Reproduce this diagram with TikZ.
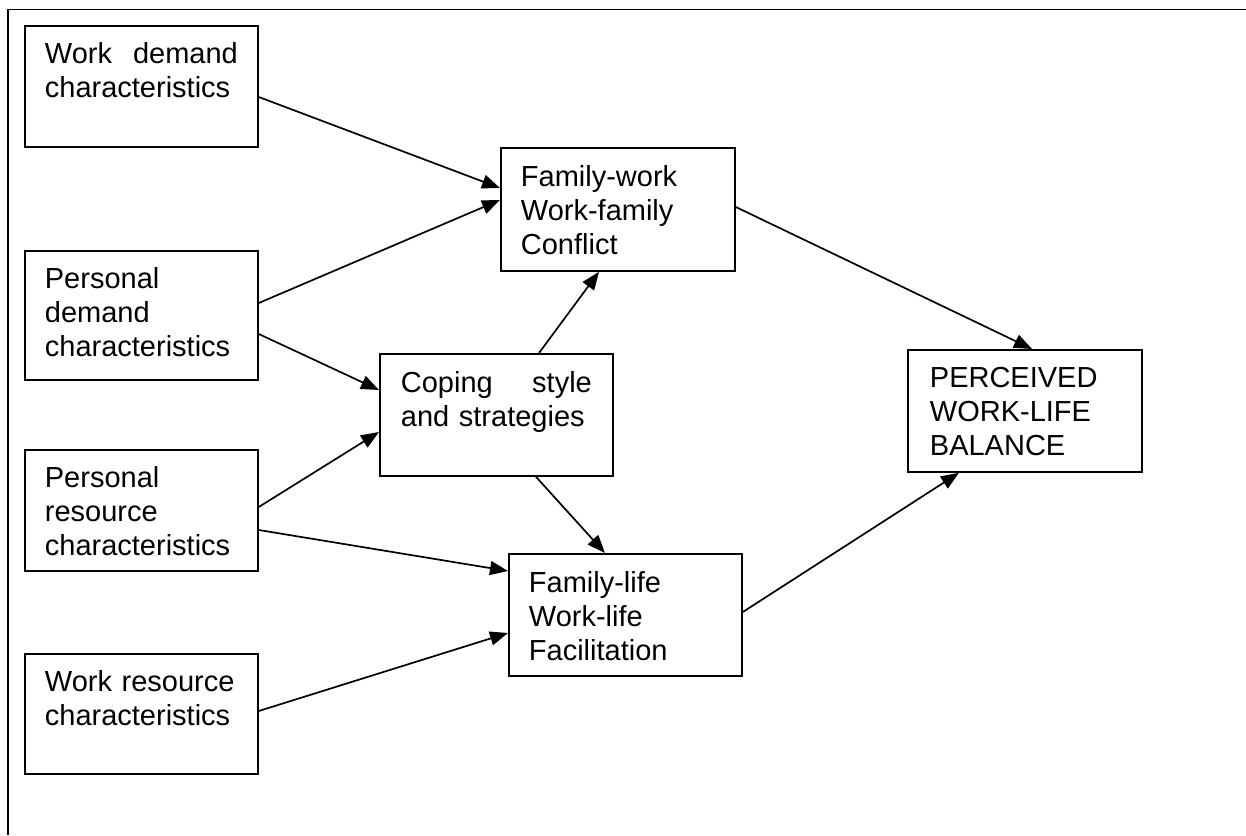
\documentclass[tikz,border=0pt]{standalone}
\usepackage{fontspec}
\setmainfont{Liberation Sans}
\usetikzlibrary{arrows.meta}
\tikzset{
  box/.style={draw, line width=1.8pt, anchor=north west, align=left,
    text width=193pt, inner xsep=20pt, inner ysep=17pt,
    text height=21pt, text depth=66pt,
    font=\fontsize{29}{34}\selectfont},
  arr/.style={->, line width=1.7pt}
}
\begin{document}
\begin{tikzpicture}[x=1pt, y=-1pt, >={Triangle[length=18pt,width=14pt]}]
	\useasboundingbox (0,0) rectangle (1246,835);
	\draw[line width=1.6pt] (1246,9.5) -- (8,9.5) -- (8,835);
	\node[box] (wd) at (24,25) {Work\hfill demand\\characteristics};
	\node[box, text depth=74pt] (pd) at (24,250) {Personal\\demand\\characteristics};
	\node[box] (pr) at (24,449) {Personal\\resource\\characteristics};
	\node[box, text depth=65pt] (wr) at (24,653) {Work resource\\characteristics};
	\node[box, text width=194pt, inner ysep=18pt, text depth=66pt] (fw) at (500,147) {Family-work\\Work-family\\Conflict};
	\node[box, inner xsep=21pt, inner ysep=18pt, text depth=65pt, text width=191pt] (cs) at (379,353) {Coping\hfill style\\and strategies};
	\node[box, inner ysep=18pt, text depth=65pt] (fa) at (508,553) {Family-life\\Work-life\\Facilitation};
	\node[box, inner xsep=22pt, text width=190pt, text depth=67pt] (pb) at (907,349) {PERCEIVED\\WORK-LIFE\\BALANCE};
	\draw[arr] ([yshift=-72pt]wd.north east) -- ([yshift=-41pt]fw.north west);
	\draw[arr] ([yshift=-53pt]pd.north east) -- ([yshift=-53pt]fw.north west);
	\draw[arr] ([yshift=-84pt]pd.north east) -- ([yshift=-37pt]cs.north west);
	\draw[arr] ([yshift=-58pt]pr.north east) -- ([yshift=-79pt]cs.north west);
	\draw[arr] ([yshift=-81pt]pr.north east) -- ([yshift=-18pt]fa.north west);
	\draw[arr] ([yshift=-58pt]wr.north east) -- ([yshift=-80pt]fa.north west);
	\draw[arr] ([xshift=160pt]cs.north west) -- ([xshift=99pt]fw.south west);
	\draw[arr] ([xshift=157pt]cs.south west) -- ([xshift=97pt]fa.north west);
	\draw[arr] ([yshift=-60pt]fw.north east) -- ([xshift=125pt]pb.north west);
	\draw[arr] ([yshift=-59pt]fa.north east) -- ([xshift=52pt]pb.south west);
\end{tikzpicture}
\end{document}
